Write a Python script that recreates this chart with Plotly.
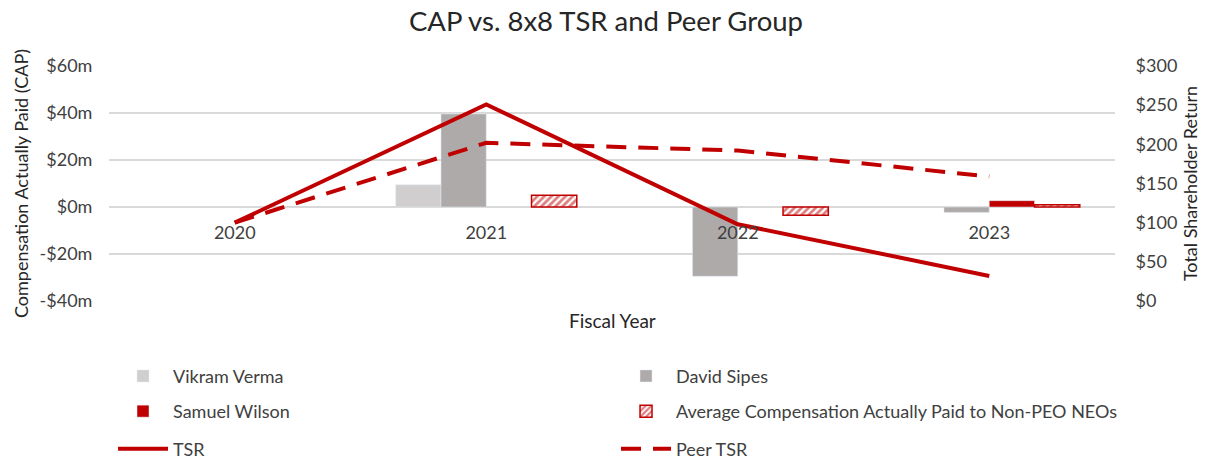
import plotly.graph_objects as go

years = ["2020", "2021", "2022", "2023"]
vikram_verma = [None, 9.5, None, None]
david_sipes = [None, 39.6, -29.5, -2.3]
samuel_wilson = [None, None, None, 2.7]
avg_non_peo = [None, 5.0, -3.5, 1.0]
tsr = [100, 251, 98, 32]
peer_tsr = [100, 202, 192, 159]

cap_tickvals = [-40, -20, 0, 20, 40, 60]
cap_ticktext = ["-$40m", "-$20m", "$0m", "$20m", "$40m", "$60m"]
tsr_tickvals = [0, 50, 100, 150, 200, 250, 300]
tsr_ticktext = ["$0", "$50", "$100", "$150", "$200", "$250", "$300"]

RED = "#C00000"
FONT = "Lato"
TXT = "#404040"

fig = go.Figure()
fig.add_trace(go.Bar(x=years, y=vikram_verma, name="Vikram Verma",
                     marker=dict(color="#D0CECE"), legend="legend"))
fig.add_trace(go.Bar(x=years, y=david_sipes, name="David Sipes",
                     marker=dict(color="#AEAAAA"), legend="legend"))
fig.add_trace(go.Bar(x=years, y=samuel_wilson, name="Samuel Wilson",
                     marker=dict(color=RED), legend="legend2"))
fig.add_trace(go.Bar(x=years, y=avg_non_peo,
                     name="Average Compensation Actually Paid to Non-PEO NEOs",
                     marker=dict(color="white", line=dict(color=RED, width=1.5),
                                 pattern=dict(shape="/", fgcolor=RED, bgcolor="white",
                                              size=5, solidity=0.55)),
                     legend="legend2"))
fig.add_trace(go.Scatter(x=years, y=tsr, name="TSR", mode="lines", yaxis="y2",
                         line=dict(color=RED, width=4), legend="legend3"))
fig.add_trace(go.Scatter(x=years, y=peer_tsr, name="Peer TSR", mode="lines", yaxis="y2",
                         line=dict(color=RED, width=4, dash="20px,12px"), legend="legend3"))

leg_common = dict(orientation="h", xanchor="left", yanchor="middle", x=0.004,
                  entrywidth=438, entrywidthmode="pixels",
                  font=dict(family=FONT, size=18, color=TXT),
                  bgcolor="rgba(0,0,0,0)", itemwidth=50)

fig.update_layout(
    width=1212, height=464,
    margin=dict(l=109, r=97, t=66, b=163, autoexpand=False),
    paper_bgcolor="white", plot_bgcolor="white",
    barmode="group", bargap=0.28, bargroupgap=0,
    title=dict(text="CAP vs. 8x8 TSR and Peer Group", x=0.5, xanchor="center",
               y=1 - 21 / 464, yref="container", yanchor="middle",
               font=dict(family=FONT, size=27.5, color="#262626")),
    xaxis=dict(type="category", anchor="free", position=0.4, showgrid=False,
               showline=False, ticks="outside", ticklen=9, tickcolor="rgba(0,0,0,0)",
               tickfont=dict(family=FONT, size=18, color=TXT)),
    yaxis=dict(range=[-40, 60], tickvals=cap_tickvals, ticktext=cap_ticktext,
               showgrid=True, gridcolor="#D9D9D9", gridwidth=1.5, zeroline=False,
               ticks="outside", ticklen=12, tickcolor="rgba(0,0,0,0)",
               tickfont=dict(family=FONT, size=18, color=TXT),
               title=dict(text="Compensation Actually Paid (CAP)", standoff=6,
                          font=dict(family=FONT, size=18, color="#262626"))),
    yaxis2=dict(range=[0, 300], overlaying="y", side="right", tickvals=tsr_tickvals,
                ticktext=tsr_ticktext, showgrid=False, zeroline=False,
                ticks="outside", ticklen=16, tickcolor="rgba(0,0,0,0)",
                tickfont=dict(family=FONT, size=18, color=TXT),
                title=dict(text="Total Shareholder Return", standoff=8,
                           font=dict(family=FONT, size=18, color="#262626"))),
    legend=dict(**leg_common, y=-0.32),
    legend2=dict(**leg_common, y=-0.47),
    legend3=dict(**leg_common, y=-0.63),
    annotations=[dict(text="Fiscal Year", x=0.5, y=-0.083, xref="paper", yref="paper",
                      showarrow=False, xanchor="center", yanchor="middle",
                      font=dict(family=FONT, size=19, color="#262626"))],
)

fig.write_html("out.html", config={"displayModeBar": False},
               post_script="document.body.style.margin='0';")
